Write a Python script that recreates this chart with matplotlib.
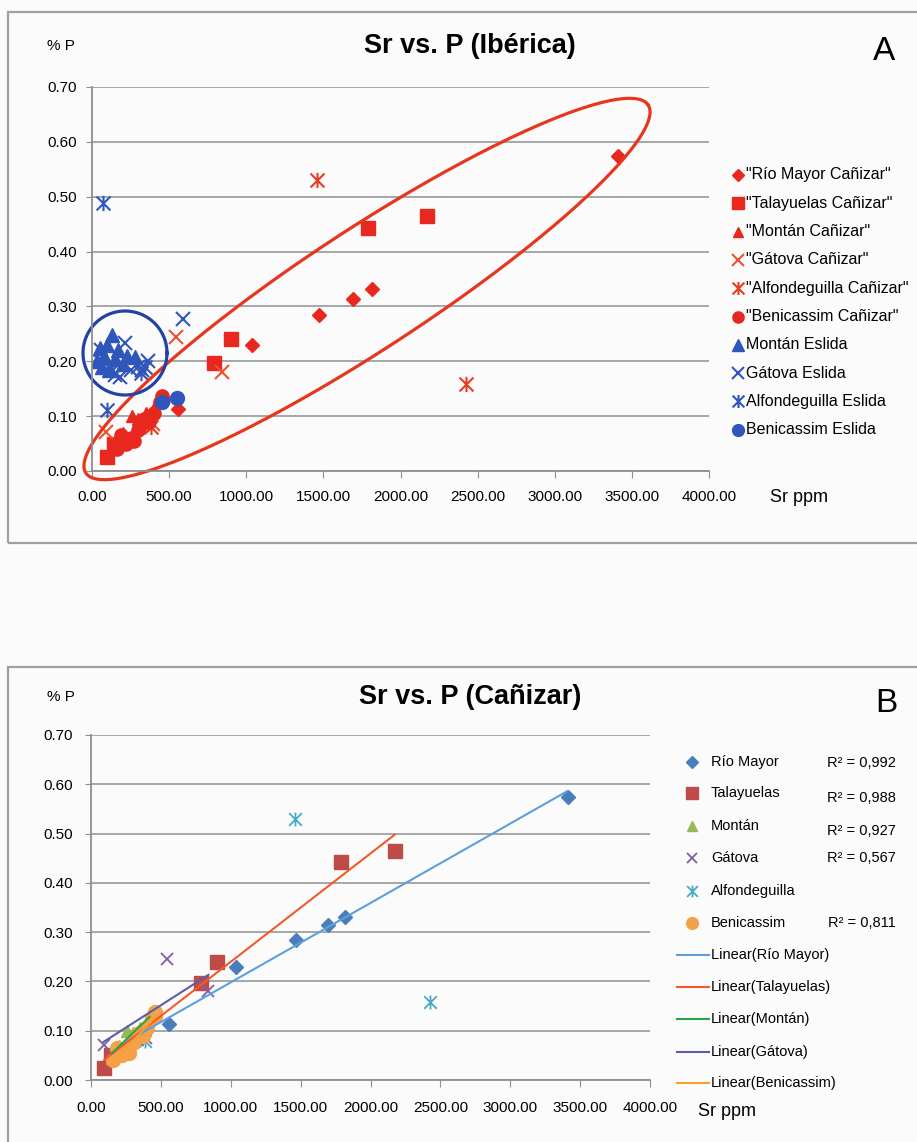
import matplotlib.pyplot as plt
import numpy as np
from matplotlib.lines import Line2D
from matplotlib.path import Path
from matplotlib.patches import Rectangle
from matplotlib.ticker import FormatStrFormatter

# Cañizar samples (Sr ppm, % P)
rio_x = [220, 555, 1035, 1470, 1695, 1815, 3410]
rio_y = [0.055, 0.113, 0.230, 0.285, 0.314, 0.331, 0.574]
tal_x = [95, 140, 320, 790, 900, 1790, 2175]
tal_y = [0.025, 0.050, 0.085, 0.197, 0.240, 0.443, 0.465]
mon_x = [150, 200, 260, 300, 350, 420]
mon_y = [0.045, 0.070, 0.100, 0.095, 0.105, 0.125]
gat_x = [90, 395, 545, 840]
gat_y = [0.072, 0.085, 0.245, 0.181]
alf_x = [385, 1460, 2425]
alf_y = [0.080, 0.530, 0.158]
ben_x = [160, 185, 220, 250, 270, 300, 340, 370, 400, 440, 455, 460]
ben_y = [0.040, 0.065, 0.050, 0.060, 0.055, 0.075, 0.095, 0.090, 0.105, 0.125, 0.137, 0.130]

# Eslida samples
me_x = [30, 50, 65, 80, 95, 110, 130, 150, 170, 200, 230, 280]
me_y = [0.200, 0.225, 0.190, 0.210, 0.230, 0.185, 0.248, 0.205, 0.220, 0.195, 0.210, 0.208]
ge_x = [60, 110, 150, 180, 215, 250, 300, 325, 360, 590]
ge_y = [0.220, 0.190, 0.175, 0.172, 0.233, 0.185, 0.190, 0.184, 0.200, 0.277]
ae_x = [70, 95, 130, 320, 345]
ae_y = [0.488, 0.111, 0.185, 0.178, 0.190]
be_x = [452, 550]
be_y = [0.126, 0.133]

labels_a = ['"Río Mayor Cañizar"', '"Talayuelas Cañizar"', '"Montán Cañizar"',
            '"Gátova Cañizar"', '"Alfondeguilla Cañizar"', '"Benicassim Cañizar"',
            'Montán Eslida', 'Gátova Eslida', 'Alfondeguilla Eslida', 'Benicassim Eslida']
names_b = ['Río Mayor', 'Talayuelas', 'Montán', 'Gátova', 'Alfondeguilla', 'Benicassim']
r2_labels = ['R² = 0,992', 'R² = 0,988', 'R² = 0,927', 'R² = 0,567', '', 'R² = 0,811']

# x with a vertical bar, like the spreadsheet "star" marker
star = Path([(-1, -1), (1, 1), (-1, 1), (1, -1), (0, -1.1), (0, 1.1)],
            [Path.MOVETO, Path.LINETO] * 3)

plt.rcParams['font.family'] = ['Liberation Sans', 'DejaVu Sans']

W, H = 917, 1142
fig = plt.figure(figsize=(W / 100, H / 100), dpi=100, facecolor='#fbfbfc')


def fx(px):
    return px / W


def fy(py):
    return 1 - py / H


# panel frames
fig.add_artist(Rectangle((fx(8), fy(543)), 1.0, (543 - 12) / H, transform=fig.transFigure,
                         fill=False, ec='#a0a0a0', lw=1.6))
fig.add_artist(Rectangle((fx(8), -0.05), 1.0, fy(667) + 0.05, transform=fig.transFigure,
                         fill=False, ec='#a0a0a0', lw=1.6))


def setup(ax, xpad, ypad):
    ax.set_facecolor('none')
    ax.set_xlim(0, 4000)
    ax.set_ylim(0, 0.7)
    ax.set_xticks(np.arange(0, 4001, 500))
    ax.set_yticks(np.arange(0, 0.701, 0.1))
    ax.xaxis.set_major_formatter(FormatStrFormatter('%.2f'))
    ax.yaxis.set_major_formatter(FormatStrFormatter('%.2f'))
    ax.grid(axis='y', color='#a3a7a8', lw=1.4)
    ax.set_axisbelow(True)
    for s in ['top', 'right']:
        ax.spines[s].set_visible(False)
    for s in ['left', 'bottom']:
        ax.spines[s].set_color('#8e8e8e')
        ax.spines[s].set_linewidth(1.3)
    ax.tick_params(axis='x', length=5, color='#8e8e8e', pad=xpad, labelsize=11)
    ax.tick_params(axis='y', length=4, color='#8e8e8e', pad=ypad, labelsize=11)


# ---------------- panel A ----------------
ax1 = fig.add_axes([fx(92), fy(471), (709 - 92) / W, (471 - 87) / H])
setup(ax1, 9, 7)

red = '#e8281f'
blue = '#2f56ba'
series_a = [
    (rio_x, rio_y, 'D', 7.5, red, None),
    (tal_x, tal_y, 's', 10, red, None),
    (mon_x, mon_y, '^', 9, red, None),
    (gat_x, gat_y, 'x', 9.5, '#f0522f', 1.5),
    (alf_x, alf_y, star, 11, '#ea3a22', 1.5),
    (ben_x, ben_y, 'o', 9.5, red, None),
    (me_x, me_y, '^', 9.5, blue, None),
    (ge_x, ge_y, 'x', 9.5, blue, 1.5),
    (ae_x, ae_y, star, 11, blue, 1.5),
    (be_x, be_y, 'o', 10, blue, None),
]
for x, y, m, ms, c, mew in series_a:
    ax1.plot(x, y, ls='none', marker=m, ms=ms, color=c, mew=mew if mew else 1.0)

# hand-drawn ellipse (red) and circle (blue), in axes pixel space
aw, ah = 709 - 92, 471 - 87
t = np.linspace(0, 2 * np.pi, 300)
ang = np.deg2rad(33.2)
cx, cy, a, b = 367 - 92, 471 - 289, 336, 60
ex = cx + a * np.cos(t) * np.cos(ang) - b * np.sin(t) * np.sin(ang)
ey = cy + a * np.cos(t) * np.sin(ang) + b * np.sin(t) * np.cos(ang)
ax1.plot(ex / aw, ey / ah, color='#e8361e', lw=2.3, transform=ax1.transAxes, clip_on=False)
ccx, ccy, r = 125 - 92, 471 - 353, 42
ax1.plot((ccx + r * np.cos(t)) / aw, (ccy + r * np.sin(t)) / ah, color='#2441a6', lw=2.3,
         transform=ax1.transAxes, clip_on=False)

fig.text(fx(470), fy(46), 'Sr vs. P (Ibérica)', ha='center', va='center', fontsize=19.5,
         fontweight='bold')
fig.text(fx(61), fy(46), '% P', ha='center', va='center', fontsize=11)
fig.text(fx(884), fy(52), 'A', ha='center', va='center', fontsize=24)
fig.text(fx(799), fy(497), 'Sr ppm', ha='center', va='center', fontsize=13)

for i, (lab, s) in enumerate(zip(labels_a, series_a)):
    yy = fy(175 + 28.3 * i)
    fig.add_artist(Line2D([fx(738)], [yy], ls='none', marker=s[2], ms=s[3] * 0.85, color=s[4],
                          mew=s[5] if s[5] else 1.0, transform=fig.transFigure))
    fig.text(fx(746), yy, lab, ha='left', va='center', fontsize=11.5)

# ---------------- panel B ----------------
ax2 = fig.add_axes([fx(91), fy(1080), (650 - 91) / W, (1080 - 735) / H])
setup(ax2, 10, 9)

series_b = [
    (rio_x, rio_y, 'D', 7, '#4a7ebb', None, '#5d9fdc'),
    (tal_x, tal_y, 's', 10, '#be4b48', None, '#f2592b'),
    (mon_x, mon_y, '^', 8.5, '#98b954', None, '#2ca24a'),
    (gat_x, gat_y, 'x', 9, '#7d60a0', 1.3, '#5a5ea6'),
    (alf_x, alf_y, star, 10, '#46aac5', 1.3, None),
    (ben_x, ben_y, 'o', 10, '#f5a04a', None, '#f7a032'),
]
for x, y, m, ms, c, mew, lc in series_b:
    ax2.plot(x, y, ls='none', marker=m, ms=ms, color=c, mew=mew if mew else 1.0)
for x, y, m, ms, c, mew, lc in series_b:
    if lc is None:
        continue
    k, q = np.polyfit(x, y, 1)
    xs = np.array([min(x), max(x)])
    ax2.plot(xs, k * xs + q, color=lc, lw=1.5)

fig.text(fx(470), fy(697), 'Sr vs. P (Cañizar)', ha='center', va='center', fontsize=19.5,
         fontweight='bold')
fig.text(fx(61), fy(697), '% P', ha='center', va='center', fontsize=11)
fig.text(fx(886), fy(704), 'B', ha='center', va='center', fontsize=24)
fig.text(fx(727), fy(1112), 'Sr ppm', ha='center', va='center', fontsize=13)

rows_b = [762, 793, 826, 858, 891, 923]
r2_rows = [763, 798, 831, 858, 891, 923]
for i, (name, s) in enumerate(zip(names_b, series_b)):
    yy = fy(rows_b[i])
    fig.add_artist(Line2D([fx(692)], [yy], ls='none', marker=s[2], ms=s[3] * 0.85, color=s[4],
                          mew=s[5] if s[5] else 1.0, transform=fig.transFigure))
    fig.text(fx(711), yy, name, ha='left', va='center', fontsize=10.5)
    if r2_labels[i]:
        fig.text(fx(896), fy(r2_rows[i]), r2_labels[i], ha='right', va='center', fontsize=10.5)

line_rows = [955, 987, 1019, 1052, 1083]
trend = [s for s in zip(names_b, series_b) if s[1][6] is not None]
for j, (name, s) in enumerate(trend):
    yy = fy(line_rows[j])
    fig.add_artist(Line2D([fx(677), fx(709)], [yy, yy], color=s[6], lw=1.5,
                          transform=fig.transFigure))
    fig.text(fx(711), yy, 'Linear(' + name + ')', ha='left', va='center', fontsize=10.5)

fig.savefig('out.png', dpi=100, facecolor=fig.get_facecolor())
